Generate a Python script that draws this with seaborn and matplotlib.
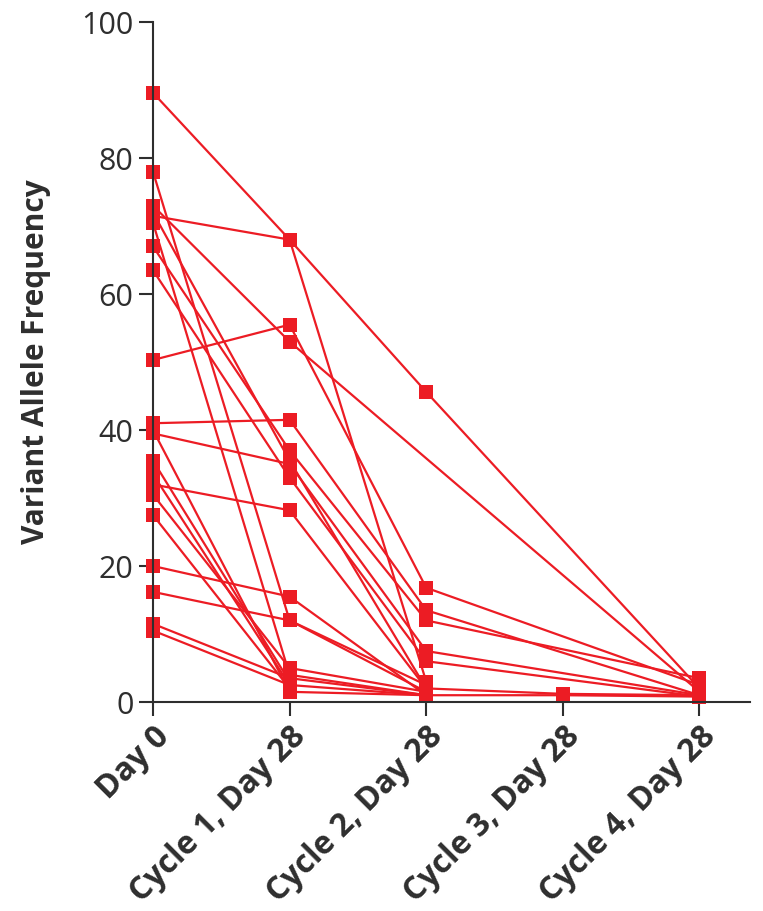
import numpy as np
import pandas as pd
import seaborn as sns
from matplotlib import pyplot as plt

# visite e valori VAF per paziente (nan = visita mancante)
visite = ["Day 0", "Cycle 1, Day 28", "Cycle 2, Day 28", "Cycle 3, Day 28", "Cycle 4, Day 28"]
day0 = [89.6, 71.5, 73.0, 50.3, 78.0, 41.0, 39.5, 67.0, 63.5, 72.0, 32.0,
        35.5, 33.5, 30.5, 27.5, 20.0, 16.2, 11.5, 10.5, 70.5, 40.0]
cycle1 = [68.0, 68.0, 53.0, 55.5, 12.0, 41.5, 35.0, 37.0, 33.0, 35.5, 28.2,
          3.0, 2.5, 5.0, 2.0, 15.5, 12.0, 3.5, 2.5, 4.0, 1.5]
cycle2 = [45.6, 3.0, np.nan, 16.8, 1.5, 13.5, 7.5, 12.0, 6.0, 2.0, 2.0,
          np.nan, 1.0, 1.5, np.nan, 1.0, 2.5, 1.0, np.nan, 1.0, 1.0]
cycle3 = [np.nan, np.nan, np.nan, np.nan, np.nan, np.nan, np.nan, np.nan, np.nan, 1.2, np.nan,
          np.nan, np.nan, np.nan, np.nan, np.nan, np.nan, 1.0, np.nan, np.nan, np.nan]
cycle4 = [2.0, np.nan, 1.5, 2.5, np.nan, 1.0, 1.0, 3.5, 0.8, 1.0, np.nan,
          np.nan, np.nan, np.nan, np.nan, np.nan, np.nan, 0.8, np.nan, np.nan, np.nan]

wide = pd.DataFrame({v: s for v, s in zip(visite, [day0, cycle1, cycle2, cycle3, cycle4])})
wide["paziente"] = range(len(day0))
df = wide.melt(id_vars="paziente", var_name="visita", value_name="vaf").dropna()
df["pos"] = df["visita"].map({v: i for i, v in enumerate(visite)})

sns.set_style("ticks")
plt.rcParams["font.family"] = ["Open Sans", "DejaVu Sans"]

rosso = "#EC1C24"
grigio = "#2E2E2E"

fig = plt.figure(figsize=(7.63, 9.11), dpi=100)
ax = fig.add_axes([0.2005, 0.2294, 0.7825, 0.7464])

sns.lineplot(data=df, x="pos", y="vaf", units="paziente", estimator=None,
             color=rosso, marker="s", markersize=10.5, markeredgewidth=0,
             linewidth=1.6, sort=True, ax=ax)
for l in ax.lines:
    l.set_clip_on(False)

ax.set_xlim(0, 4.37)
ax.set_ylim(0, 100)
ax.set_yticks([0, 20, 40, 60, 80, 100])
ax.set_xticks(range(len(visite)))
ax.set_xticklabels(visite, rotation=45, ha="right", rotation_mode="anchor",
                   fontsize=23, fontweight="bold", color=grigio)
ax.tick_params(axis="y", labelsize=22, labelcolor=grigio, length=10, width=1.5, color=grigio, pad=4)
ax.tick_params(axis="x", length=10, width=1.5, color=grigio, pad=3)
ax.set_xlabel("")
ax.set_ylabel("Variant Allele Frequency", fontsize=21.5, fontweight="bold", color=grigio, labelpad=22)
sns.despine(ax=ax)
for s in ["left", "bottom"]:
    ax.spines[s].set_linewidth(1.5)
    ax.spines[s].set_color(grigio)

fig.savefig("out.png", dpi=100)
